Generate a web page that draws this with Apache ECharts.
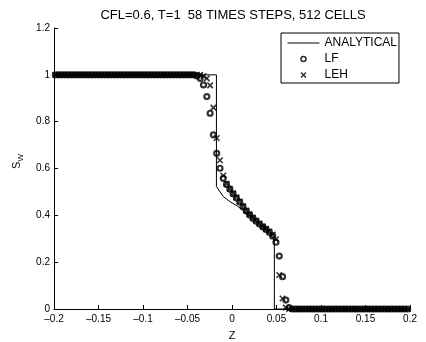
<!DOCTYPE html>
<html><head><meta charset="utf-8">
<script src="https://cdn.jsdelivr.net/npm/echarts@6/dist/echarts.min.js"></script>
<style>html,body{margin:0;padding:0;background:#fff}#c{width:426px;height:342px}</style>
</head><body><div id="c"></div>
<script>
const FONT = '"Liberation Sans", Arial, Helvetica, sans-serif';
const titleText = 'CFL=0.6, T=1  58 TIMES STEPS, 512 CELLS';
const seriesNames = ['ANALYTICAL', 'LF', 'LEH'];
const xTickValues = [-0.2, -0.15, -0.1, -0.05, 0, 0.05, 0.1, 0.15, 0.2];
const yTickValues = [0, 0.2, 0.4, 0.6, 0.8, 1, 1.2];

// sampled cell positions (every few cells)
const zGrid = [
 -0.1985,-0.1948,-0.1911,-0.1874,-0.1837,-0.1800,-0.1763,-0.1726,-0.1689,-0.1652,
 -0.1615,-0.1578,-0.1541,-0.1504,-0.1467,-0.1430,-0.1393,-0.1356,-0.1319,-0.1282,
 -0.1245,-0.1208,-0.1171,-0.1134,-0.1097,-0.1060,-0.1023,-0.0986,-0.0949,-0.0912,
 -0.0875,-0.0838,-0.0801,-0.0764,-0.0727,-0.0690,-0.0653,-0.0616,-0.0579,-0.0542,
 -0.0505,-0.0468,-0.0431,-0.0394,-0.0357,
 -0.0320,-0.0283,-0.0246,-0.0209,-0.0172,-0.0135,-0.0098,-0.0061,-0.0024,0.0013,
 0.0050,0.0087,0.0124,0.0161,0.0198,0.0235,0.0272,0.0309,0.0346,0.0383,
 0.0420,0.0457,0.0494,0.0531,0.0568,0.0605,0.0642,0.0679,0.0716,0.0753,
 0.0790,0.0827,0.0864,0.0901,0.0938,0.0975,0.1012,0.1049,0.1086,0.1123,
 0.1160,0.1197,0.1234,0.1271,0.1308,0.1345,0.1382,0.1419,0.1456,0.1493,
 0.1530,0.1567,0.1604,0.1641,0.1678,0.1715,0.1752,0.1789,0.1826,0.1863,
 0.1900,0.1937,0.1974
];
const sLF = [
 1,1,1,1,1,1,1,1,1,1,
 1,1,1,1,1,1,1,1,1,1,
 1,1,1,1,1,1,1,1,1,1,
 1,1,1,1,1,1,1,1,1,1,
 1,1,1,0.995,0.985,
 0.957,0.907,0.836,0.744,0.665,0.601,0.558,0.532,0.512,0.492,
 0.474,0.457,0.437,0.418,0.402,0.388,0.375,0.363,0.351,0.340,
 0.328,0.312,0.285,0.226,0.138,0.038,0.006,0,0,0,
 0,0,0,0,0,0,0,0,0,0,
 0,0,0,0,0,0,0,0,0,0,
 0,0,0,0,0,0,0,0,0,0,
 0,0,0
];
const sLEH = [
 1,1,1,1,1,1,1,1,1,1,
 1,1,1,1,1,1,1,1,1,1,
 1,1,1,1,1,1,1,1,1,1,
 1,1,1,1,1,1,1,1,1,1,
 1,1,1,1,1,
 0.995,0.985,0.955,0.860,0.730,0.635,0.570,0.535,0.513,0.494,
 0.477,0.459,0.439,0.420,0.404,0.390,0.377,0.365,0.353,0.342,
 0.331,0.318,0.298,0.145,0.045,0.006,0,0,0,0,
 0,0,0,0,0,0,0,0,0,0,
 0,0,0,0,0,0,0,0,0,0,
 0,0,0,0,0,0,0,0,0,0,
 0,0,0
];
const zExact = [-0.2, -0.0175, -0.0175, -0.0098, -0.002, 0.006, 0.014, 0.022, 0.030, 0.038, 0.044, 0.0476, 0.0476, 0.2];
const sExact = [1, 1, 0.523, 0.480, 0.458, 0.440, 0.416, 0.392, 0.366, 0.340, 0.318, 0.290, 0, 0];

const pairs = (xs, ys) => xs.map((x, i) => [x, ys[i]]);
const fmt = v => {
  const r = Math.round(v * 100) / 100;
  return (r === 0 ? '0' : String(r)).replace('-', '\u2013');
};
const crossPath = 'path://M0,0L10,10M10,0L0,10';

const chart = echarts.init(document.getElementById('c'), null, {renderer: 'canvas'});
chart.setOption({
  animation: false,
  backgroundColor: '#fff',
  title: {
    text: titleText, left: 233, top: 9, textAlign: 'center', padding: 0,
    textStyle: {fontFamily: FONT, fontSize: 13, fontWeight: 'normal', color: '#000'}
  },
  grid: {left: 54, right: 16, top: 28, bottom: 33, containLabel: false, outerBoundsMode: 'none'},
  legend: {
    orient: 'vertical', left: 281, top: 33, padding: [3, 2, 1, 6], itemGap: 2,
    itemWidth: 32, itemHeight: 5, selectedMode: false,
    backgroundColor: '#fff', borderColor: '#000', borderWidth: 1, borderRadius: 0,
    textStyle: {fontFamily: FONT, fontSize: 12, color: '#000', lineHeight: 14},
    data: [
      {name: seriesNames[0], itemStyle: {opacity: 0, color: 'rgba(0,0,0,0)', borderWidth: 0}, lineStyle: {width: 1, color: '#000'}},
      {name: seriesNames[1], itemStyle: {color: 'rgba(0,0,0,0)', borderColor: '#000', borderWidth: 1.6}},
      {name: seriesNames[2], itemStyle: {color: 'rgba(0,0,0,0)', borderColor: '#000', borderWidth: 1.5}}
    ]
  },
  xAxis: {
    type: 'value', min: -0.2, max: 0.2, interval: 0.05,
    name: 'Z', nameLocation: 'middle', nameGap: 21,
    nameTextStyle: {fontFamily: FONT, fontSize: 11, color: '#000'},
    axisLine: {onZero: false, lineStyle: {color: '#000', width: 1}},
    axisTick: {inside: true, length: 4, lineStyle: {color: '#000', width: 1}},
    axisLabel: {formatter: fmt, fontFamily: FONT, fontSize: 10, color: '#000', margin: 5},
    splitLine: {show: false}
  },
  yAxis: {
    type: 'value', min: 0, max: 1.2, interval: 0.2,
    name: '{a|S}{b|W}', nameLocation: 'middle', nameGap: 20, nameRotate: 90,
    nameTextStyle: {
      fontFamily: FONT, color: '#000', padding: [0, 0, 0, 14],
      rich: {
        a: {fontFamily: FONT, fontSize: 11, lineHeight: 11, verticalAlign: 'top', color: '#000'},
        b: {fontFamily: FONT, fontSize: 8, lineHeight: 8, padding: [6, 0, 0, 0], verticalAlign: 'top', color: '#000'}
      }
    },
    axisLine: {onZero: false, lineStyle: {color: '#000', width: 1}},
    axisTick: {inside: true, length: 4, lineStyle: {color: '#000', width: 1}},
    axisLabel: {formatter: fmt, fontFamily: FONT, fontSize: 10, color: '#000', margin: 4},
    splitLine: {show: false}
  },
  series: [
    {
      name: seriesNames[0], type: 'line', data: pairs(zExact, sExact),
      showSymbol: false, symbol: 'none', lineStyle: {color: '#000', width: 1},
      itemStyle: {color: '#000'}, emphasis: {disabled: true}, silent: true, z: 2
    },
    {
      name: seriesNames[1], type: 'scatter', data: pairs(zGrid, sLF),
      symbol: 'circle', symbolSize: 5,
      itemStyle: {color: 'rgba(0,0,0,0)', borderColor: '#000', borderWidth: 2.2},
      emphasis: {disabled: true}, silent: true, z: 3
    },
    {
      name: seriesNames[2], type: 'scatter', data: pairs(zGrid, sLEH),
      symbol: crossPath, symbolSize: 5.5,
      itemStyle: {color: 'rgba(0,0,0,0)', borderColor: '#000', borderWidth: 1.6},
      emphasis: {disabled: true}, silent: true, z: 4
    }
  ]
});
</script>
</body></html>
